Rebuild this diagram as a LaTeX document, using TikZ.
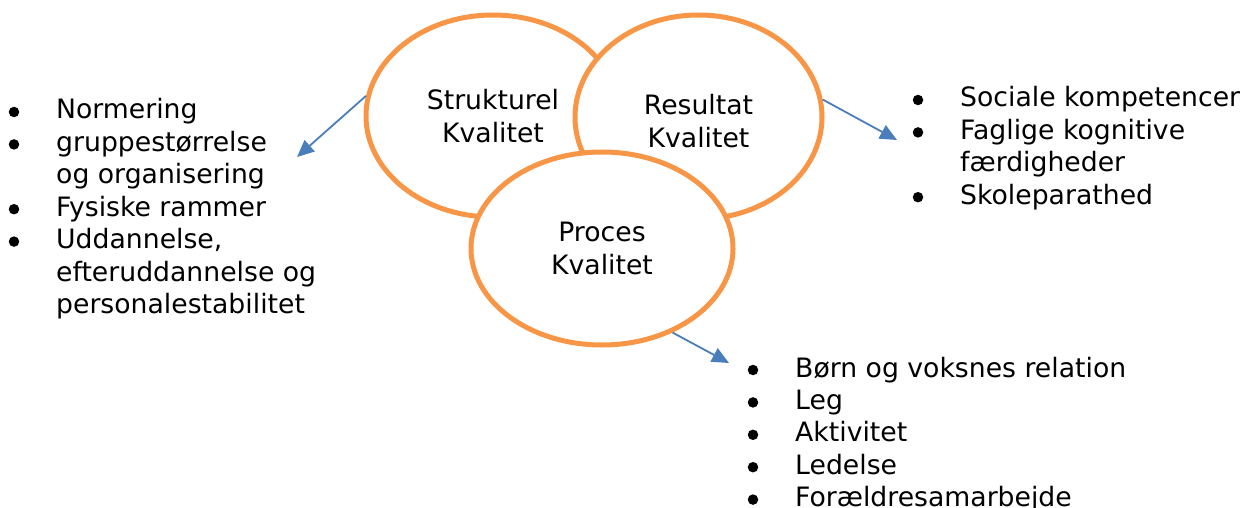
\documentclass[tikz,border=0pt]{standalone}
\usepackage{fontspec}
\setmainfont{DejaVu Sans}
\usetikzlibrary{arrows.meta,shapes.geometric}
\definecolor{qorange}{HTML}{F79646}
\definecolor{qblue}{HTML}{4A7EBB}
\begin{document}
\begin{tikzpicture}[x=1pt,y=-1pt,
  circ/.style={ellipse, draw=qorange, line width=5pt, fill=white, inner sep=0pt, align=center, font=\fontsize{26.67}{32.4}\selectfont},
  item/.style={anchor=base west, inner sep=0pt, font=\fontsize{26.67}{32.4}\selectfont},
  dot/.style={circle, fill=black, inner sep=0pt, minimum size=10.5pt},
  arr/.style={draw=qblue, line width=1.8pt, -{Triangle[length=17pt,width=15pt]}}]
\useasboundingbox (0,0) rectangle (1242,508);
% circles
\node[circ, minimum width=254pt, minimum height=202pt] (struk) at (493,116) {Strukturel\\Kvalitet};
\node[circ, minimum width=247pt, minimum height=204pt] (res) at (698.5,117) {\rule{0pt}{28pt}Resultat\\Kvalitet};
\node[circ, minimum width=262pt, minimum height=193pt] (proc) at (602,248.5) {Proces\\Kvalitet};
% left list
\node[dot] (lb1) at (14,112) {};
\node[item] (l1) at (56,119) {Normering};
\node[dot] (lb2) at (14,144.4) {};
\node[item] (l2) at (56,151.4) {\vtop{\hbox{gruppestørrelse}\hbox{og organisering}}};
\node[dot] (lb3) at (14,209.2) {};
\node[item] (l3) at (56,216.2) {Fysiske rammer};
\node[dot] (lb4) at (14,241.6) {};
\node[item] (l4) at (56,248.6) {\vtop{\hbox{Uddannelse,}\hbox{efteruddannelse og}\hbox{personalestabilitet}}};
% right list
\node[dot] (rb1) at (918,100) {};
\node[item] (r1) at (960,107) {Sociale kompetencer};
\node[dot] (rb2) at (918,132.4) {};
\node[item] (r2) at (960,139.4) {\vtop{\hbox{Faglige kognitive}\hbox{færdigheder}}};
\node[dot] (rb3) at (918,197.2) {};
\node[item] (r3) at (960,204.2) {Skoleparathed};
% bottom list
\node[dot] (bb1) at (753,370) {};
\node[item] (b1) at (795,377) {Børn og voksnes relation};
\node[dot] (bb2) at (753,402.4) {};
\node[item] (b2) at (795,409.4) {Leg};
\node[dot] (bb3) at (753,434.8) {};
\node[item] (b3) at (795,441.8) {Aktivitet};
\node[dot] (bb4) at (753,467.2) {};
\node[item] (b4) at (795,474.2) {Ledelse};
\node[dot] (bb5) at (753,499.6) {};
\node[item] (b5) at (795,506.6) {Forældresamarbejde};
% arrows
\coordinate (la) at (297,157);
\coordinate (ra) at (897,140);
\coordinate (ba) at (729,363);
\draw[arr] (struk.171) -- (la);
\draw[arr] (res.8) -- (ra);
\draw[arr] (proc.-50) -- (ba);
\end{tikzpicture}
\end{document}
